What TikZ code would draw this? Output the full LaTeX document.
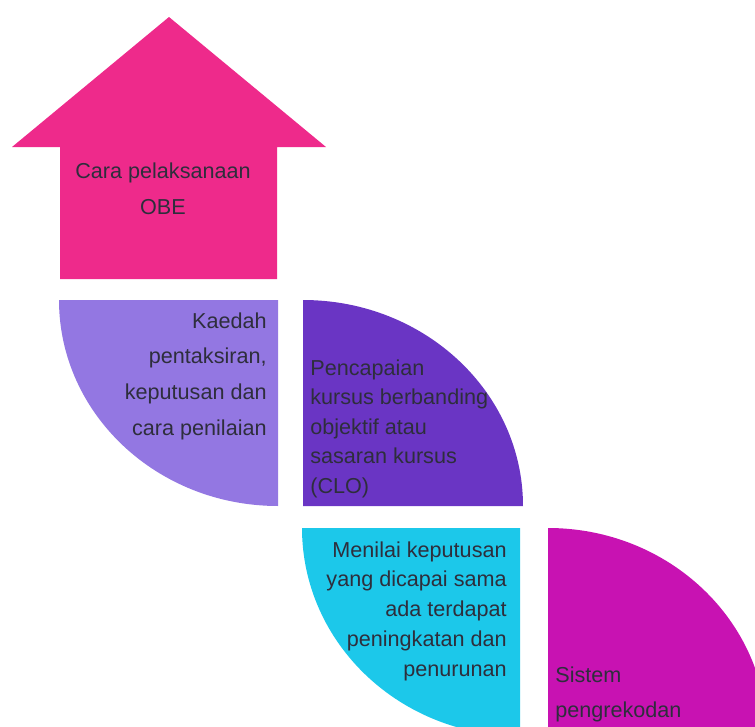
\documentclass[tikz,border=0pt]{standalone}
\usepackage{fontspec}
\setmainfont{Liberation Sans}
\definecolor{obepink}{HTML}{EE2A8B}
\definecolor{kaedahlilac}{HTML}{9377E2}
\definecolor{clopurple}{HTML}{6A35C4}
\definecolor{nilaicyan}{HTML}{1CC8EA}
\definecolor{rekodmagenta}{HTML}{C812B2}
\definecolor{txtgray}{HTML}{2E2E3C}
\begin{document}
\begin{tikzpicture}[x=0.02cm, y=-0.02cm,
    txt/.style={inner sep=0pt, text=txtgray}]
    \useasboundingbox (0,0) rectangle (755,727);
    \clip (0,0) rectangle (755,727);
    % house arrow
    \fill[obepink] (12,147) -- (169,17) -- (326,147) -- (277,147) -- (277,279) -- (60,279) -- (60,147) -- cycle;
    % quarter pieces
    \fill[kaedahlilac] (278,300) -- (59,300) arc[start angle=180, end angle=90, x radius=219, y radius=206] -- cycle;
    \fill[clopurple] (303,506) -- (303,300) arc[start angle=-90, end angle=0, x radius=220, y radius=206] -- cycle;
    \fill[nilaicyan] (520,528) -- (302,528) arc[start angle=180, end angle=90, x radius=218, y radius=208] -- cycle;
    \fill[rekodmagenta] (548,736) -- (548,528) arc[start angle=-90, end angle=0, x radius=219, y radius=208] -- cycle;
    % texts
    \node[txt, anchor=north, align=center, font={\fontsize{12.3}{21}\selectfont}] (obe) at (163,162) {Cara pelaksanaan\\OBE};
    \node[txt, anchor=north east, align=right, font={\fontsize{12.3}{20.4}\selectfont}] (kaedah) at (267,312) {Kaedah\\pentaksiran,\\keputusan dan\\cara penilaian};
    \node[txt, anchor=north west, align=left, font={\fontsize{12.3}{16.8}\selectfont}] (clo) at (310,359) {Pencapaian\\kursus berbanding\\objektif atau\\sasaran kursus\\(CLO)};
    \node[txt, anchor=north east, align=right, font={\fontsize{12.3}{17}\selectfont}] (nilai) at (507,541) {Menilai keputusan\\yang dicapai sama\\ada terdapat\\peningkatan dan\\penurunan};
    \node[txt, anchor=north west, align=left, font={\fontsize{12.3}{20.4}\selectfont}] (rekod) at (555,666) {Sistem\\pengrekodan};
\end{tikzpicture}
\end{document}
